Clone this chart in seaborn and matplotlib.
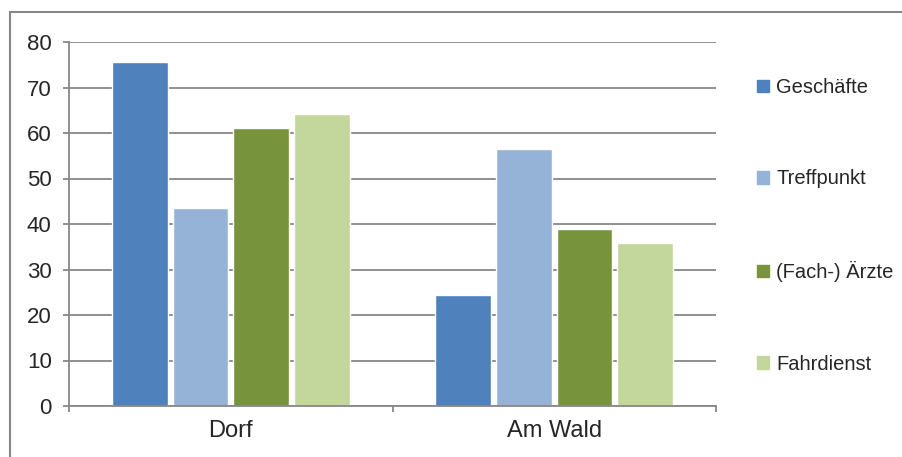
import matplotlib
matplotlib.use("Agg")
import matplotlib.pyplot as plt
import matplotlib.patches as mpatches
import pandas as pd
import seaborn as sns

orte = ["Dorf", "Am Wald"]
kategorien = ["Geschäfte", "Treffpunkt", "(Fach-) Ärzte", "Fahrdienst"]
werte_dorf = [75.6, 43.5, 61.1, 64.2]
werte_wald = [24.4, 56.5, 38.8, 35.8]
farben = ["#4F81BD", "#95B3D7", "#77933C", "#C3D69B"]

df = pd.DataFrame({
    "Ort": [orte[0]] * 4 + [orte[1]] * 4,
    "Kategorie": kategorien * 2,
    "Wert": werte_dorf + werte_wald,
})

sns.set_style("white")
plt.rcParams["font.family"] = ["Liberation Sans", "DejaVu Sans"]
grau = "#878787"

fig = plt.figure(figsize=(9.02, 4.57), dpi=100)
ax = fig.add_axes([69 / 902, 1 - 406 / 457, (716 - 69) / 902, (406 - 42) / 457])

sns.barplot(data=df, x="Ort", y="Wert", hue="Kategorie", palette=farben,
            saturation=1, width=0.75, gap=0.08, ax=ax, legend=False, zorder=2)

ax.set_ylim(0, 80)
ax.set_xlim(-0.5, 1.5)
ax.set_yticks(range(0, 81, 10))
ax.yaxis.grid(True, color=grau, linewidth=1.3)
ax.set_axisbelow(True)
ax.set_xlabel("")
ax.set_ylabel("")

for s in ["top", "right"]:
    ax.spines[s].set_visible(False)
for s in ["left", "bottom"]:
    ax.spines[s].set_color(grau)
    ax.spines[s].set_linewidth(1.3)

ax.tick_params(axis="y", length=4.5, width=1.3, color=grau, pad=8, labelsize=16, left=True)
ax.tick_params(axis="x", length=0, pad=10, labelsize=17)
ax.set_xticks([-0.5, 0.5, 1.5], minor=True)
ax.tick_params(axis="x", which="minor", length=4.5, width=1.3, color=grau, bottom=True)

handles = [mpatches.Patch(color=c, label=k) for c, k in zip(farben, kategorien)]
fig.legend(handles=handles, loc="upper left", bbox_to_anchor=(757 / 902, 1 - 78 / 457),
           frameon=False, fontsize=14.5, handlelength=0.6, handleheight=0.6,
           handletextpad=0.35, labelspacing=3.6, borderpad=0, borderaxespad=0)

rahmen = mpatches.Rectangle((10 / 902, -0.1), 1.2, 1 - 12 / 457 + 0.1, transform=fig.transFigure,
                            fill=False, edgecolor=grau, linewidth=1.5)
fig.patches.append(rahmen)

fig.savefig("out.png", dpi=100)
